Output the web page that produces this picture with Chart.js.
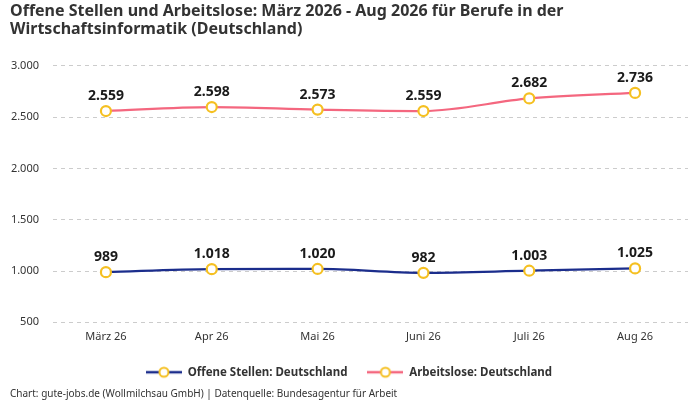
<!DOCTYPE html>
<html lang="de">
<head>
<meta charset="UTF-8">
<title>Offene Stellen und Arbeitslose</title>
<script src="https://cdn.jsdelivr.net/npm/chart.js"></script>
<style>
    html, body { margin: 0; padding: 0; background: #fff; }
    #wrap { width: 700px; height: 400px; }
</style>
</head>
<body>
<div id="wrap"><canvas id="chart"></canvas></div>
<script>
    var months = ['März 26', 'Apr 26', 'Mai 26', 'Juni 26', 'Juli 26', 'Aug 26'];
    var offeneStellen = [989, 1018, 1020, 982, 1003, 1025];
    var arbeitslose = [2559, 2598, 2573, 2559, 2682, 2736];
    var yTicks = [500, 1000, 1500, 2000, 2500, 3000];

    var FONT = '"Noto Sans", sans-serif';
    var POINT = '#f5c022';
    var fmt = new Intl.NumberFormat('de-DE');

    // kleines Bild fuer die Legende: Linie mit Kreis
    function legendIcon(color) {
        var c = document.createElement('canvas');
        c.width = 36; c.height = 14;
        var g = c.getContext('2d');
        g.strokeStyle = color; g.lineWidth = 2.5;
        g.beginPath(); g.moveTo(0, 7); g.lineTo(36, 7); g.stroke();
        g.beginPath(); g.arc(18, 7, 4.5, 0, Math.PI * 2);
        g.fillStyle = '#fff'; g.fill();
        g.strokeStyle = POINT; g.lineWidth = 2; g.stroke();
        return c;
    }

    var valueLabels = {
        id: 'valueLabels',
        afterDatasetsDraw: function (chart) {
            var ctx = chart.ctx;
            ctx.save();
            ctx.font = 'bold 14px ' + FONT;
            ctx.fillStyle = '#1a1a1a';
            ctx.textAlign = 'center';
            ctx.textBaseline = 'bottom';
            chart.data.datasets.forEach(function (ds, i) {
                chart.getDatasetMeta(i).data.forEach(function (pt, j) {
                    ctx.fillText(fmt.format(ds.data[j]), pt.x, pt.y - 8);
                });
            });
            ctx.restore();
        }
    };

    var ctx = document.getElementById('chart').getContext('2d');
    new Chart(ctx, {
        type: 'line',
        data: {
            labels: months,
            datasets: [{
                label: 'Offene Stellen: Deutschland',
                data: offeneStellen,
                borderColor: '#1b2d8c',
                borderWidth: 2.2,
                pointBorderColor: POINT,
                pointBackgroundColor: '#fff'
            }, {
                label: 'Arbeitslose: Deutschland',
                data: arbeitslose,
                borderColor: '#f4677f',
                borderWidth: 2.2,
                pointBorderColor: POINT,
                pointBackgroundColor: '#fff'
            }]
        },
        options: {
            responsive: true,
            maintainAspectRatio: false,
            animation: false,
            cubicInterpolationMode: 'monotone',
            elements: {
                point: { radius: 5, borderWidth: 2 }
            },
            layout: { padding: { left: 10, right: 12, top: 0, bottom: 0 } },
            scales: {
                x: {
                    offset: true,
                    grid: { display: false },
                    border: { display: false },
                    afterFit: function (axis) { axis.height += 3; },
                    ticks: { color: '#333', font: { family: FONT, size: 11 }, padding: 0 }
                },
                y: {
                    min: 500,
                    max: 3000,
                    afterBuildTicks: function (axis) {
                        axis.ticks = yTicks.map(function (v) { return { value: v }; });
                    },
                    afterFit: function (axis) { axis.width = 43; },
                    grid: { color: '#cccccc', drawTicks: false },
                    border: { display: false, dash: [4, 4] },
                    ticks: {
                        color: '#333',
                        padding: 14,
                        font: { family: FONT, size: 11 },
                        callback: function (v) { return fmt.format(v); }
                    }
                }
            },
            plugins: {
                title: {
                    display: true,
                    text: ['Offene Stellen und Arbeitslose: März 2026 - Aug 2026 für Berufe in der', 'Wirtschaftsinformatik (Deutschland)'],
                    align: 'start',
                    color: '#333',
                    font: { family: FONT, size: 16, weight: 'bold', lineHeight: 1.15 },
                    padding: { top: 2, bottom: 27 }
                },
                subtitle: {
                    display: true,
                    position: 'bottom',
                    align: 'start',
                    text: 'Chart: gute-jobs.de (Wollmilchsau GmbH) | Datenquelle: Bundesagentur für Arbeit',
                    color: '#333',
                    font: { family: FONT, size: 10 },
                    padding: { top: 0, bottom: 0 }
                },
                legend: {
                    position: 'bottom',
                    labels: {
                        usePointStyle: true,
                        pointStyleWidth: 36,
                        color: '#333',
                        font: { family: FONT, size: 11.5, weight: 'bold' },
                        padding: 20,
                        generateLabels: function (chart) {
                            return chart.data.datasets.map(function (ds, i) {
                                return {
                                    text: ds.label,
                                    pointStyle: legendIcon(ds.borderColor),
                                    fontColor: '#333',
                                    datasetIndex: i,
                                    hidden: false,
                                    lineWidth: 0
                                };
                            });
                        }
                    }
                },
                tooltip: { enabled: false }
            }
        },
        plugins: [valueLabels]
    });
</script>
</body>
</html>
